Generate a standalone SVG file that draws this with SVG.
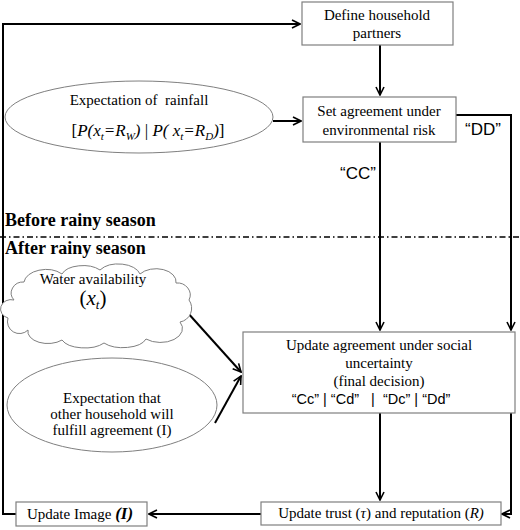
<svg xmlns="http://www.w3.org/2000/svg" width="520" height="530" viewBox="0 0 520 530">
<defs>
<style>
.box{fill:#fff;stroke:#7f7f7f;stroke-width:1.2}
.shape{fill:#fff;stroke:#7f7f7f;stroke-width:1}
.serif{font-family:"Liberation Serif","Times New Roman",serif;fill:#000}
.sans{font-family:"Liberation Sans",Arial,sans-serif;fill:#000}
.conn{fill:none;stroke:#000;stroke-width:2}
.it{font-style:italic}
</style>
<marker id="arr" viewBox="0 0 10 10" markerWidth="5" markerHeight="5" refX="9" refY="5" orient="auto">
<path d="M1,1 L9,5 L1,9" fill="none" stroke="#000" stroke-width="1.6"/>
</marker>
</defs>
<rect width="520" height="530" fill="#fff"/>

<g id="connectors">
<polyline class="conn" points="16,514 3,514 3,24 300,24" marker-end="url(#arr)"/>
<line class="conn" x1="380" y1="45" x2="380" y2="95" marker-end="url(#arr)"/>
<line class="conn" x1="273" y1="121" x2="301" y2="121" marker-end="url(#arr)"/>
<line class="conn" x1="380" y1="142" x2="380" y2="330" marker-end="url(#arr)"/>
<polyline class="conn" points="456,115 511,115 511,330" marker-end="url(#arr)"/>
<line class="conn" x1="187" y1="312" x2="241" y2="372" marker-end="url(#arr)"/>
<line class="conn" x1="215" y1="423" x2="241" y2="376" marker-end="url(#arr)"/>
<line class="conn" x1="380" y1="413" x2="380" y2="500" marker-end="url(#arr)"/>
<polyline class="conn" points="511,413 511,514 502,514" marker-end="url(#arr)"/>
<line class="conn" x1="261" y1="514" x2="149" y2="514" marker-end="url(#arr)"/>
<text class="sans" x="358" y="179" font-size="17" text-anchor="middle">“CC”</text>
<text class="sans" x="483" y="135" font-size="17" text-anchor="middle">“DD”</text>
</g>

<g id="season-divider">
<line x1="0" y1="237" x2="520" y2="237" stroke="#000" stroke-width="1.5" stroke-dasharray="6 3 1.5 3"/>
<text class="serif" x="5" y="226" font-size="18" font-weight="bold">Before rainy season</text>
<text class="serif" x="5" y="254" font-size="18" font-weight="bold">After rainy season</text>
</g>

<g id="define-partners" font-size="15">
<rect class="box" x="302" y="2" width="151" height="43"/>
<text class="serif" x="377" y="20" text-anchor="middle">Define household</text>
<text class="serif" x="377" y="38" text-anchor="middle">partners</text>
</g>

<g id="set-agreement" font-size="15">
<rect class="box" x="303" y="97" width="153" height="45"/>
<text class="serif" x="379" y="116" text-anchor="middle">Set agreement under</text>
<text class="serif" x="379" y="135" text-anchor="middle">environmental risk</text>
</g>

<g id="rainfall-expectation" font-size="15">
<ellipse class="shape" cx="139" cy="117" rx="134" ry="36"/>
<text class="serif" x="139" y="105" text-anchor="middle" style="white-space:pre">Expectation of  rainfall</text>
<text class="serif" x="148" y="136" font-size="17" text-anchor="middle" style="white-space:pre">[<tspan class="it">P(x</tspan><tspan class="it" font-size="11" dy="4">t</tspan><tspan class="it" dy="-4">=R</tspan><tspan class="it" font-size="11" dy="4">W</tspan><tspan class="it" dy="-4">)</tspan> | <tspan class="it">P( x</tspan><tspan class="it" font-size="11" dy="4">t</tspan><tspan class="it" dy="-4">=R</tspan><tspan class="it" font-size="11" dy="4">D</tspan><tspan class="it" dy="-4">)</tspan>]</text>
</g>

<g id="water-availability" font-size="15">
<path class="shape" d="M14,300 A12,11 0 0 1 24,282 A22,14 0 0 1 62,274 A22,12 0 0 1 100,270 A22,13 0 0 1 140,274 A20,13 0 0 1 176,283 A13,12 0 0 1 189,300 A14,14 0 0 1 180,322 A22,14 0 0 1 146,339 A24,12 0 0 1 104,343 A24,12 0 0 1 62,340 A20,12 0 0 1 28,330 A12,12 0 0 1 8,318 A10,9 0 0 1 14,300 Z"/>
<text class="serif" x="93" y="284" text-anchor="middle">Water availability</text>
<text class="serif" x="93" y="305" font-size="21" text-anchor="middle">(<tspan class="it">x</tspan><tspan class="it" font-size="13" dy="4">t</tspan><tspan dy="-4">)</tspan></text>
</g>

<g id="fulfill-expectation" font-size="15">
<ellipse class="shape" cx="112" cy="405" rx="105" ry="47"/>
<text class="serif" x="112" y="403" text-anchor="middle">Expectation that</text>
<text class="serif" x="112" y="419" text-anchor="middle">other household will</text>
<text class="serif" x="112" y="435" text-anchor="middle">fulfill agreement (I)</text>
</g>

<g id="update-agreement" font-size="15">
<rect class="box" x="243" y="332" width="272" height="81"/>
<text class="serif" x="379" y="350" text-anchor="middle">Update agreement under social</text>
<text class="serif" x="379" y="368" text-anchor="middle">uncertainty</text>
<text class="serif" x="379" y="386" text-anchor="middle">(final decision)</text>
<text class="sans" x="371" y="404" font-size="14.5" text-anchor="middle" style="white-space:pre">“Cc” | “Cd”   |  “Dc” | “Dd”</text>
</g>

<g id="update-trust" font-size="15">
<rect class="box" x="261" y="502" width="240" height="23"/>
<text class="serif" x="381" y="518" text-anchor="middle">Update trust (<tspan class="it">τ</tspan>) and reputation (<tspan class="it">R)</tspan></text>
</g>

<g id="update-image" font-size="15">
<rect class="box" x="16" y="502" width="131" height="24"/>
<text class="serif" x="80" y="519" text-anchor="middle">Update Image <tspan class="it" font-weight="bold" font-size="17">(I)</tspan></text>
</g>
</svg>
